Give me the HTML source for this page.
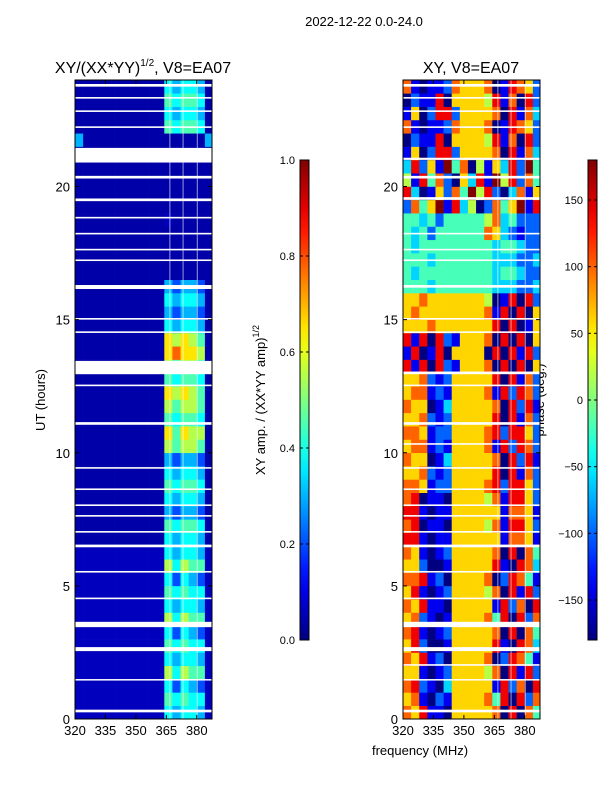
<!DOCTYPE html>
<html><head><meta charset="utf-8">
<style>
body{margin:0;background:#fff;}
svg text{font-family:"Liberation Sans",sans-serif;fill:#000;}
</style></head>
<body>
<svg id="fig" width="600" height="800" viewBox="0 0 600 800" xmlns="http://www.w3.org/2000/svg">
<rect width="600" height="800" fill="#fff"/>
<text x="364" y="26" font-size="13" text-anchor="middle">2022-12-22 0.0-24.0</text>
<text x="143" y="73" font-size="16" text-anchor="middle">XY/(XX*YY)<tspan font-size="10" dy="-7">1/2</tspan><tspan dy="7">, V8=EA07</tspan></text>
<text x="471" y="73" font-size="16" text-anchor="middle">XY, V8=EA07</text>
<text x="420" y="755" font-size="13" text-anchor="middle">frequency (MHz)</text>
<text transform="translate(45,400) rotate(-90)" font-size="13" text-anchor="middle">UT (hours)</text>
<text transform="translate(265,400) rotate(-90)" font-size="13" text-anchor="middle">XY amp. / (XX*YY amp)<tspan font-size="9" dy="-6">1/2</tspan></text>
<text transform="translate(544,400) rotate(-90)" font-size="13" text-anchor="middle">phase (deg.)</text>
<g id="layer"></g>
</svg>
<script>
// ---- data ----
const hourTicks = [0, 5, 10, 15, 20];
const freqTicks = [320, 335, 350, 365, 380];
const ampTicks = [0.0, 0.2, 0.4, 0.6, 0.8, 1.0];
const phaseTicks = [-150, -100, -50, 0, 50, 100, 150];
// amplitude level code -> amplitude value
const ampLevels = [0.04, 0.06, 0.2, 0.3, 0.38, 0.45, 0.55, 0.65, 0.78, 0.9];
// 48 half-hour rows (bottom first), 17 freq columns of 4 MHz from 320
const ampRows = [
"11111111111434431","11111111111545441","11111111111424321","11111111111646551",
"11111111111434431","11111111111545441","11111111111424321","11111111111646551",
"11111111111434431","11111111111545441","11111111111424321","11111111111646551",
"11111111111434431",
"00000000000434430","00000000000545540","00000000000323320","00000000000434430",
"00000000000545540","00000000000434430","00000000000323320",
"00000000000656650","00000000000757660",
"00000000000545540","00000000000656650","00000000000767650","00000000000545540","00000000000656650",
"00000000000787760","00000000000767650",
"00000000000434430","00000000000323320","00000000000434430","00000000000323320",
"00000000000000000","00000000000000000","00000000000000000","00000000000000000",
"00000000000100000","00000000000000000","00000000000000000","00000000000000000",
"00000000000000000","00000000000000000",
"30000000000000003",
"00000000000545540","00000000000434430","00000000000545540","00000000000434430"
];
// phase levels (0-9 -> -180..180)
const phaseRows = [
"76811066666708074","67102166667480827","78210366666182708","66101266665708182",
"76812066667028741","68200166666810873","78101266666708074","67210166667480827",
"76811066666182708","68101266665708182","77812066667028741","66200166666810873",
"76101266666708074",
"88101166666617761","78011066665718862","88101166666617761","78011066665718862",
"77612266667828862","66721266666808172","76601366666708281","67712166667182872",
"77612266667828862","66721266666808172","76601366666708281","67712166667182872",
"66721266666808172",
"81808216667080806","18018066660808182","81808216667080806",
"66676666666808016","67666666667180806","66766666665018082",
"44434444444333223","43444444444344322","44434444444333223","43444444444344322",
"43424444447632122","44342444445734222",
"27469183502746918","83016274958203716","51847206381958274","38261947051638294",
"16028826666708173","02118066665817082","71011276667018762","16028826666708173",
"02118066665817082","71011276667018762"
];
// flagged (white) time ranges in hours
const gapsLeft = [[0.25,0.35],[1.45,1.5],[2.55,2.7],[3.45,3.65],[4.5,4.56],[5.5,5.56],[6.45,6.55],[7.0,7.06],[7.6,7.66],[8.0,8.06],[8.6,8.66],[9.4,9.46],[11.05,11.15],[12.5,12.56],[12.95,13.45],[14.5,14.56],[15.0,15.06],[16.15,16.3],[17.2,17.26],[17.6,17.66],[18.2,18.26],[18.8,18.86],[19.45,19.55],[20.3,20.4],[20.9,21.45],[22.2,22.26],[22.8,22.86],[23.3,23.36],[23.75,23.85]];
const gapsRight = [[0.25,0.35],[1.45,1.5],[2.0,2.06],[2.55,2.7],[3.45,3.65],[4.5,4.56],[5.5,5.56],[6.45,6.55],[7.0,7.06],[7.6,7.66],[8.0,8.06],[8.6,8.66],[9.4,9.46],[10.3,10.36],[11.05,11.15],[12.5,12.56],[12.95,13.05],[14.5,14.56],[15.0,15.06],[16.2,16.3],[17.2,17.26],[17.6,17.66],[18.2,18.26],[19.5,19.6],[20.3,20.4],[21.0,21.08],[22.2,22.26],[22.8,22.86],[23.3,23.36],[23.75,23.85]];
const vGaps = [366.5, 373, 380];

// ---- layout ----
const NS = "http://www.w3.org/2000/svg";
const layer = document.getElementById("layer");
const Y0 = 719, Y1 = 80, TMAX = 24;
const FMIN = 320, FMAX = 387.5, W = 137;
const yOf = h => Y0 - (h / TMAX) * (Y0 - Y1);
const xOf = (x0, f) => x0 + (f - FMIN) / (FMAX - FMIN) * W;
function jet(v){
  const c = t => Math.max(0, Math.min(1, t));
  const r = c(1.5 - Math.abs(4*v - 3)), g = c(1.5 - Math.abs(4*v - 2)), b = c(1.5 - Math.abs(4*v - 1));
  return `rgb(${Math.round(r*255)},${Math.round(g*255)},${Math.round(b*255)})`;
}
function mk(tag, attrs, parent){
  const e = document.createElementNS(NS, tag);
  for (const k in attrs) e.setAttribute(k, attrs[k]);
  (parent || layer).appendChild(e);
  return e;
}
function panel(x0, rows, toNorm, gaps, name){
  const g = mk("g", {});
  
  
  const nR = rows.length, dh = TMAX / nR, df = 4;
  rows.forEach((row, i) => {
    for (let j = 0; j < row.length; j++){
      const f0 = FMIN + j*df, f1 = Math.min(FMAX, f0 + df);
      if (f0 >= FMAX) continue;
      const xa = xOf(x0, f0), xb = xOf(x0, f1);
      const ya = yOf((i+1)*dh), yb = yOf(i*dh);
      const r = mk("rect", {x: xa, y: ya, width: xb - xa + 0.3, height: yb - ya + 0.3, fill: jet(toNorm(+row[j]))}, g);
      
      
    }
  });
  vGaps.forEach(f => {
    const l = mk("rect", {x: xOf(x0, f), y: Y1, width: 1, height: Y0 - Y1, fill: "#fff", opacity: 0.6}, g);
    
    
  });
  gaps.forEach(gp => {
    const ya = yOf(gp[1]), yb = yOf(gp[0]);
    const l = mk("rect", {x: x0, y: ya, width: W, height: Math.max(1.5, yb - ya), fill: "#fff"}, g);
    
    
  });
  const fr = mk("rect", {x: x0, y: Y1, width: W, height: Y0 - Y1, fill: "none", stroke: "#000", "stroke-width": 1}, g);
  
  
  freqTicks.forEach(f => {
    const x = xOf(x0, f);
    mk("line", {x1: x, x2: x, y1: Y0, y2: Y0 - 4, stroke: "#000"}, g);
    mk("line", {x1: x, x2: x, y1: Y1, y2: Y1 + 4, stroke: "#000"}, g);
    const t = mk("text", {x: x, y: Y0 + 16, "font-size": 13, "text-anchor": "middle"}, g);
    t.textContent = f;
    
    
  });
  hourTicks.forEach(h => {
    const y = yOf(h);
    mk("line", {x1: x0, x2: x0 + 4, y1: y, y2: y, stroke: "#000"}, g);
    mk("line", {x1: x0 + W, x2: x0 + W - 4, y1: y, y2: y, stroke: "#000"}, g);
    const t = mk("text", {x: x0 - 5, y: y + 5, "font-size": 13, "text-anchor": "end"}, g);
    t.textContent = h;
    
    
  });
}
panel(75, ampRows, d => ampLevels[d], gapsLeft, "amplitude-heatmap");
panel(403, phaseRows, d => d/9, gapsRight, "phase-heatmap");

// colorbars
const defs = mk("defs", {});
const grad = mk("linearGradient", {id: "jetg", x1: 0, y1: 1, x2: 0, y2: 0}, defs);
for (let i = 0; i <= 20; i++) mk("stop", {offset: i/20, "stop-color": jet(i/20)}, grad);
function colorbar(x, ticks, vmin, vmax, name, fmt){
  const g = mk("g", {});
  
  
  const top = 160, bot = 640;
  mk("rect", {x: x, y: top, width: 9, height: bot - top, fill: "url(#jetg)", stroke: "#000"}, g);
  ticks.forEach(v => {
    const y = bot - (v - vmin) / (vmax - vmin) * (bot - top);
    mk("line", {x1: x, x2: x + 3, y1: y, y2: y, stroke: "#000"}, g);
    mk("line", {x1: x + 9, x2: x + 6, y1: y, y2: y, stroke: "#000"}, g);
    const t = mk("text", {x: x - 5, y: y + 4, "font-size": 11, "text-anchor": "end"}, g);
    t.textContent = fmt(v);
    
    
  });
}
colorbar(300, ampTicks, 0, 1, "amplitude-colorbar", v => v.toFixed(1));
colorbar(588, phaseTicks, -180, 180, "phase-colorbar", v => v < 0 ? "\u2212" + Math.abs(v) : String(v));
</script>
</body></html>
